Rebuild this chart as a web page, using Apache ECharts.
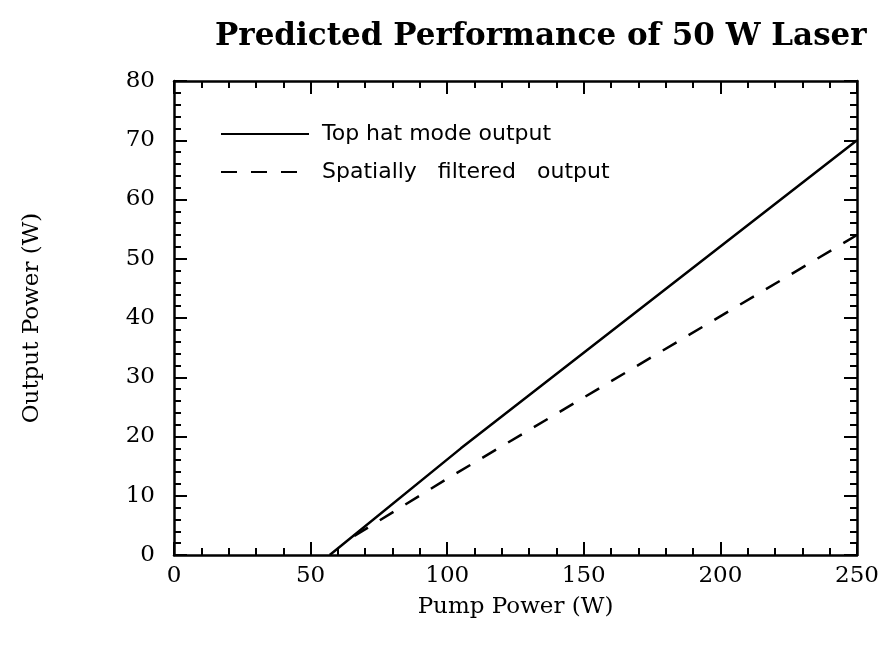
<!DOCTYPE html>
<html style="height: 100%">
<head>
<meta charset="utf-8">
<style type="text/css">
* { margin: 0; padding: 0; }
</style>
</head>
<body style="height: 100%; margin: 0; background: #fff">
	<div id="main" style="width: 886px; height: 648px"></div>
	<script type="text/javascript" src="https://cdn.jsdelivr.net/npm/echarts@6/dist/echarts.min.js"></script>
	<script type="text/javascript">
// top hat mode output (solid)
var topHatPump = [57, 105, 250];
var topHatOut = [0, 18, 70];
// spatially filtered output (dashed)
var filtPump = [66, 99, 250];
var filtOut = [3.2, 12.6, 54];

var seriesNames = ['Top hat mode output', 'Spatially filtered output'];

function pairs(xs, ys) {
	var out = [];
	for (var i = 0; i < xs.length; i++) out.push([xs[i], ys[i]]);
	return out;
}

var serif = '"DejaVu Serif", "Liberation Serif", serif';
var sans = '"DejaVu Sans", "Liberation Sans", Arial, sans-serif';

var dom = document.getElementById('main');
var myChart = echarts.init(dom, null, { renderer: 'canvas' });

// shared look of the four box axes
function boxAxis(extra) {
	var a = {
		axisLine: { show: true, onZero: false, lineStyle: { color: '#000', width: 2.5 } },
		axisTick: { show: true, inside: true, length: 13, lineStyle: { color: '#000', width: 2 } },
		minorTick: { show: true, splitNumber: 5, length: 7, lineStyle: { color: '#000', width: 2 } },
		splitLine: { show: false },
		minorSplitLine: { show: false }
	};
	for (var k in extra) a[k] = extra[k];
	return a;
}

var option = {
	backgroundColor: '#fff',
	animation: false,
	title: {
		text: 'Predicted Performance of 50 W Laser',
		left: 210,
		top: 16,
		textStyle: { fontFamily: serif, fontWeight: 'bold', fontSize: 31, color: '#000' }
	},
	legend: {
		left: 215,
		top: 118,
		orient: 'vertical',
		itemWidth: 88,
		itemHeight: 14,
		itemGap: 16,
		itemStyle: { opacity: 0 },
		textStyle: { fontFamily: sans, fontSize: 22, color: '#000', padding: [0, 0, 0, 8] },
		formatter: function (name) {
			return name.replace(/ /g, name === seriesNames[1] ? '   ' : ' ');
		},
		data: seriesNames
	},
	grid: { left: 174, right: 29, top: 81, bottom: 93 },
	xAxis: [
		boxAxis({
			type: 'value', min: 0, max: 250, interval: 50, position: 'bottom',
			name: 'Pump Power (W)', nameLocation: 'middle', nameGap: 41,
			nameTextStyle: { fontFamily: serif, fontSize: 23, color: '#000' },
			axisLabel: { fontFamily: serif, fontSize: 23, color: '#000', margin: 10 }
		}),
		boxAxis({
			type: 'value', min: 0, max: 250, interval: 50, position: 'top',
			axisLabel: { show: false }
		})
	],
	yAxis: [
		boxAxis({
			type: 'value', min: 0, max: 80, interval: 10, position: 'left',
			name: 'Output Power (W)', nameLocation: 'middle', nameGap: 130, nameRotate: 90,
			nameTextStyle: { fontFamily: serif, fontSize: 23, color: '#000' },
			axisLabel: { fontFamily: serif, fontSize: 23, color: '#000', margin: 19 }
		}),
		boxAxis({
			type: 'value', min: 0, max: 80, interval: 10, position: 'right',
			axisLabel: { show: false }
		})
	],
	series: [
		{
			name: seriesNames[0],
			type: 'line',
			data: pairs(topHatPump, topHatOut),
			symbol: 'none',
			lineStyle: { color: '#000', width: 2.5, type: 'solid' },
			itemStyle: { color: '#000' }
		},
		{
			name: seriesNames[1],
			type: 'line',
			data: pairs(filtPump, filtOut),
			symbol: 'none',
			lineStyle: { color: '#000', width: 2.5, type: [16, 14] },
			itemStyle: { color: '#000' }
		}
	]
};

myChart.setOption(option);
	</script>
</body>
</html>
